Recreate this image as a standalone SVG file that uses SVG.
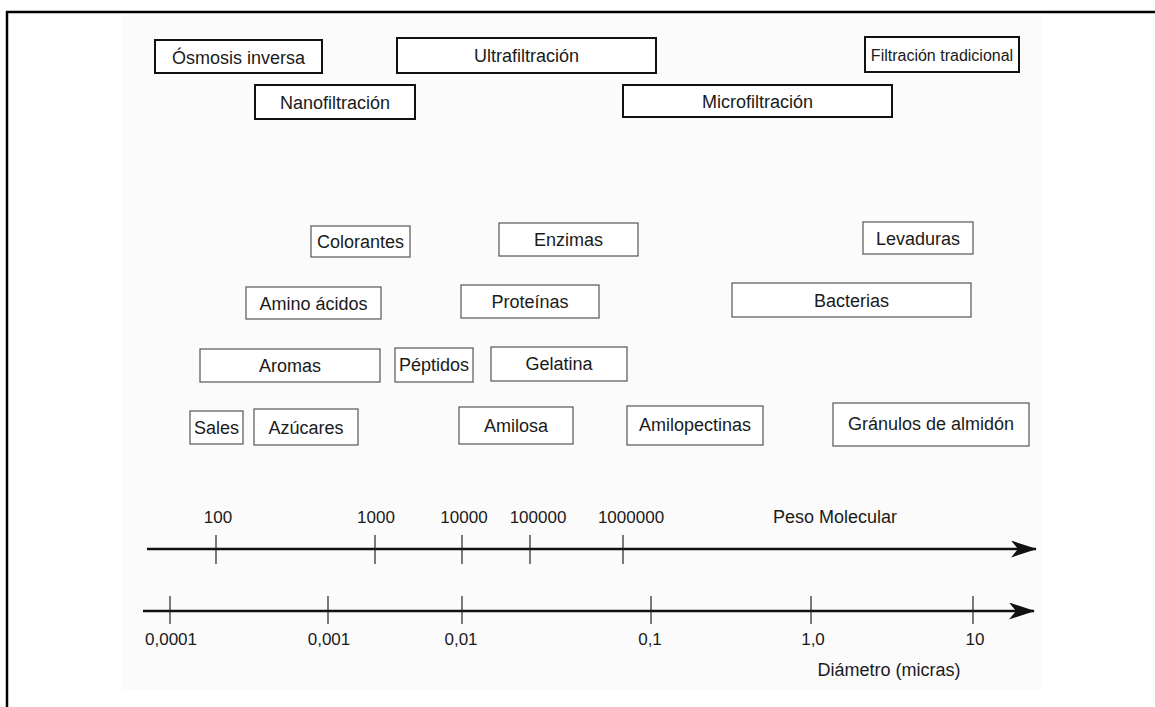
<svg xmlns="http://www.w3.org/2000/svg" width="1155" height="707" viewBox="0 0 1155 707">
  <defs>
    <style>
      .proc rect { fill: #ffffff; stroke: #111111; stroke-width: 2; }
      .item rect { fill: #ffffff; stroke: #555555; stroke-width: 1.2; }
      text { font-family: "Liberation Sans", Arial, sans-serif; fill: #1a1a1a; }
      .lbl { font-size: 18px; text-anchor: middle; }
      .num { font-size: 17px; text-anchor: middle; }
      .axis { stroke: #111111; stroke-width: 2.5; fill: none; }
      .tick { stroke: #222222; stroke-width: 1.2; }
    </style>
    <marker id="arrow" viewBox="0 0 26 17" refX="25" refY="8.5" markerWidth="26" markerHeight="17" markerUnits="userSpaceOnUse" orient="auto">
      <path d="M0,0 L26,8.5 L0,17 L7,8.5 Z" fill="#111111"/>
    </marker>
  </defs>

  <rect x="0" y="0" width="1155" height="707" fill="#ffffff"/>
  <!-- page area -->
  <rect x="122" y="15" width="920" height="675" fill="#fbfbfb"/>
  <!-- frame -->
  <line x1="6" y1="12" x2="1155" y2="12" stroke="#000" stroke-width="2.5"/>
  <line x1="7" y1="11" x2="7" y2="707" stroke="#000" stroke-width="2.5"/>

  <!-- separation processes -->
  <g id="osmosis-inversa" class="proc">
    <rect x="155" y="40" width="167" height="33"/>
    <text class="lbl" x="238.5" y="64">Ósmosis inversa</text>
  </g>
  <g id="ultrafiltracion" class="proc">
    <rect x="397" y="38" width="259" height="35"/>
    <text class="lbl" x="526.5" y="62">Ultrafiltración</text>
  </g>
  <g id="filtracion-tradicional" class="proc">
    <rect x="865" y="37" width="154" height="35"/>
    <text class="lbl" x="942" y="61" style="font-size:16px">Filtración tradicional</text>
  </g>
  <g id="nanofiltracion" class="proc">
    <rect x="255" y="85" width="160" height="34"/>
    <text class="lbl" x="335" y="109">Nanofiltración</text>
  </g>
  <g id="microfiltracion" class="proc">
    <rect x="623" y="85" width="269" height="32"/>
    <text class="lbl" x="757.5" y="108">Microfiltración</text>
  </g>

  <!-- substances -->
  <g id="colorantes" class="item">
    <rect x="311" y="226" width="99" height="31"/>
    <text class="lbl" x="360.5" y="248">Colorantes</text>
  </g>
  <g id="enzimas" class="item">
    <rect x="499" y="223" width="139" height="33"/>
    <text class="lbl" x="568.5" y="246">Enzimas</text>
  </g>
  <g id="levaduras" class="item">
    <rect x="863" y="222" width="110" height="32"/>
    <text class="lbl" x="918" y="245">Levaduras</text>
  </g>
  <g id="amino-acidos" class="item">
    <rect x="246" y="287" width="135" height="32"/>
    <text class="lbl" x="313.5" y="310">Amino ácidos</text>
  </g>
  <g id="proteinas" class="item">
    <rect x="461" y="285" width="138" height="33"/>
    <text class="lbl" x="530" y="308">Proteínas</text>
  </g>
  <g id="bacterias" class="item">
    <rect x="732" y="283" width="239" height="34"/>
    <text class="lbl" x="851.5" y="307">Bacterias</text>
  </g>
  <g id="aromas" class="item">
    <rect x="200" y="349" width="180" height="33"/>
    <text class="lbl" x="290" y="372">Aromas</text>
  </g>
  <g id="peptidos" class="item">
    <rect x="395" y="348" width="78" height="34"/>
    <text class="lbl" x="434" y="371">Péptidos</text>
  </g>
  <g id="gelatina" class="item">
    <rect x="491" y="347" width="136" height="34"/>
    <text class="lbl" x="559" y="370">Gelatina</text>
  </g>
  <g id="sales" class="item">
    <rect x="190" y="411" width="53" height="33"/>
    <text class="lbl" x="216.5" y="434">Sales</text>
  </g>
  <g id="azucares" class="item">
    <rect x="254" y="409" width="104" height="36"/>
    <text class="lbl" x="306" y="434">Azúcares</text>
  </g>
  <g id="amilosa" class="item">
    <rect x="459" y="407" width="114" height="37"/>
    <text class="lbl" x="516" y="432">Amilosa</text>
  </g>
  <g id="amilopectinas" class="item">
    <rect x="627" y="406" width="136" height="39"/>
    <text class="lbl" x="695" y="431">Amilopectinas</text>
  </g>
  <g id="granulos-almidon" class="item">
    <rect x="833" y="403" width="196" height="43"/>
    <text class="lbl" x="931" y="430">Gránulos de almidón</text>
  </g>

  <!-- scales -->
  <g id="axes">
    <!-- molecular weight -->
    <line class="axis" x1="147" y1="549" x2="1036" y2="549" marker-end="url(#arrow)"/>
    <line class="tick" x1="216" y1="535" x2="216" y2="564"/>
    <line class="tick" x1="375" y1="535" x2="375" y2="564"/>
    <line class="tick" x1="462" y1="535" x2="462" y2="564"/>
    <line class="tick" x1="530" y1="535" x2="530" y2="564"/>
    <line class="tick" x1="623" y1="535" x2="623" y2="564"/>
    <!-- diameter -->
    <line class="axis" x1="143" y1="611" x2="1034" y2="611" marker-end="url(#arrow)"/>
    <line class="tick" x1="170" y1="596" x2="170" y2="624"/>
    <line class="tick" x1="328" y1="596" x2="328" y2="624"/>
    <line class="tick" x1="462" y1="596" x2="462" y2="624"/>
    <line class="tick" x1="651" y1="596" x2="651" y2="624"/>
    <line class="tick" x1="811" y1="596" x2="811" y2="624"/>
    <line class="tick" x1="973" y1="596" x2="973" y2="624"/>
  </g>

  <g id="axis-labels">
    <text class="num" x="218" y="523">100</text>
    <text class="num" x="376" y="523">1000</text>
    <text class="num" x="464" y="523">10000</text>
    <text class="num" x="538" y="523">100000</text>
    <text class="num" x="631" y="523">1000000</text>
    <text class="lbl" x="835" y="523">Peso Molecular</text>

    <text class="num" x="171" y="645">0,0001</text>
    <text class="num" x="329" y="645">0,001</text>
    <text class="num" x="461" y="645">0,01</text>
    <text class="num" x="650" y="645">0,1</text>
    <text class="num" x="813" y="645">1,0</text>
    <text class="num" x="975" y="645">10</text>
    <text class="lbl" x="889" y="676">Diámetro (micras)</text>
  </g>
</svg>
